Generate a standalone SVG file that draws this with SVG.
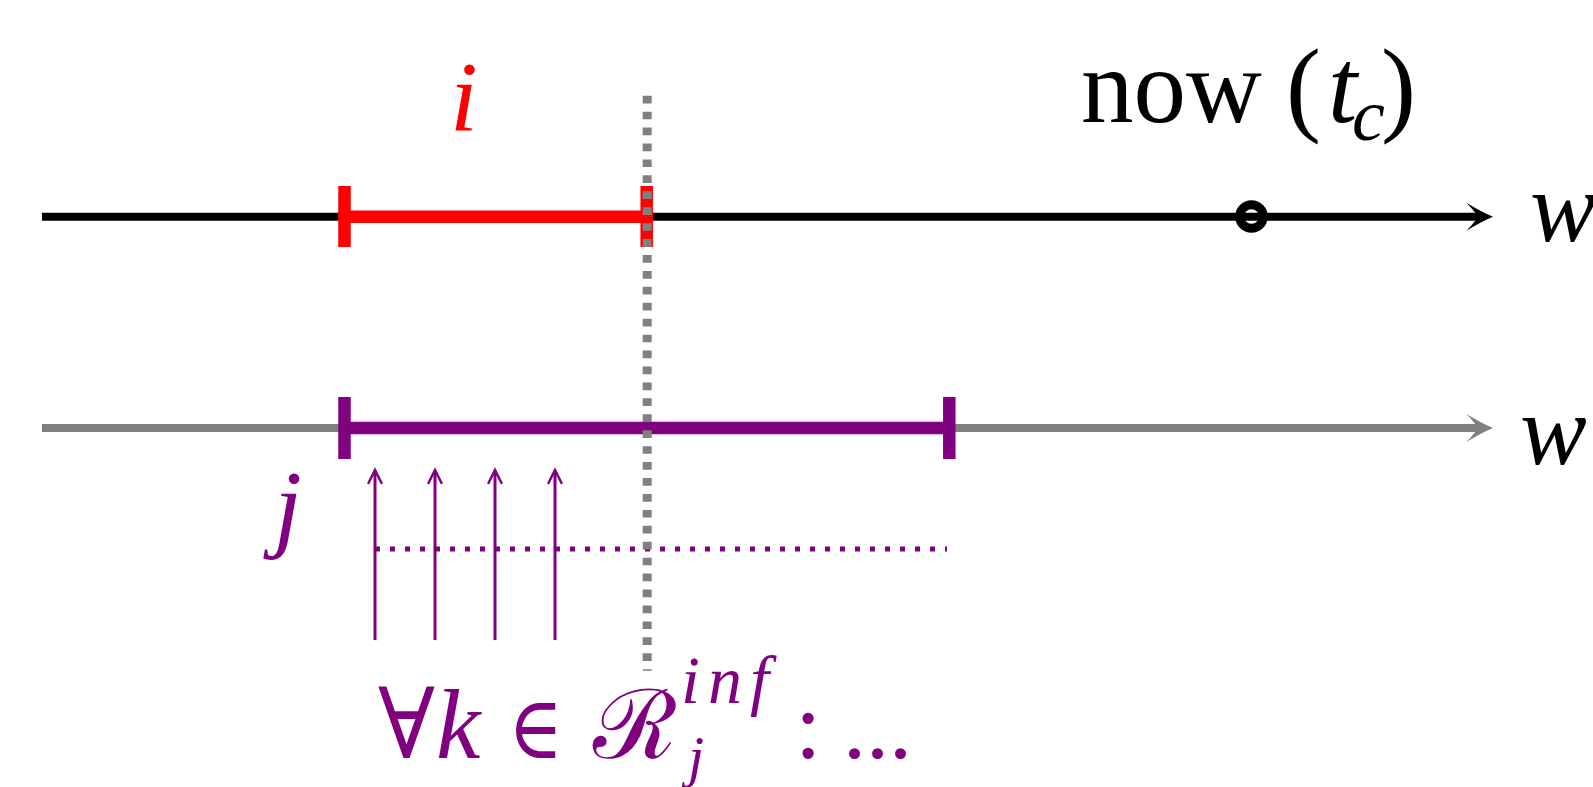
<svg xmlns="http://www.w3.org/2000/svg" width="1593" height="787" viewBox="0 0 1593 787">
  <style>
    .serif { font-family: "Liberation Serif", "DejaVu Serif", serif; }
    .it { font-style: italic; }
    .math { font-family: "DejaVu Serif", "Liberation Serif", serif; }
    .axis-k { stroke: #000000; stroke-width: 8; fill: none; }
    .axis-g { stroke: #808080; stroke-width: 8; fill: none; }
    .bar-red { stroke: #ff0000; stroke-width: 12.5; fill: none; }
    .bar-pur { stroke: #800080; stroke-width: 12.5; fill: none; }
    .vdots { stroke: #808080; stroke-width: 9; stroke-dasharray: 7.7 8.23; fill: none; }
    .hdots { stroke: #800080; stroke-width: 5; stroke-dasharray: 5 10; fill: none; }
    .uparrow { stroke: #800080; stroke-width: 3; fill: none; }
  </style>
  <defs>
    <marker id="head-k" markerUnits="userSpaceOnUse" markerWidth="30" markerHeight="30" refX="-15" refY="0" orient="auto" overflow="visible">
      <path d="M0,0 Q-12,-5 -26.5,-14 Q-18,-5 -15,0 Q-18,5 -26.5,14 Q-12,5 0,0 Z" fill="#000000"/>
    </marker>
    <marker id="head-g" markerUnits="userSpaceOnUse" markerWidth="30" markerHeight="30" refX="-15" refY="0" orient="auto" overflow="visible">
      <path d="M0,0 Q-12,-5 -26.5,-14 Q-18,-5 -15,0 Q-18,5 -26.5,14 Q-12,5 0,0 Z" fill="#808080"/>
    </marker>
    <marker id="head-p" markerUnits="userSpaceOnUse" markerWidth="16" markerHeight="16" refX="0" refY="0" orient="auto" overflow="visible">
      <path d="M-13,-6.5 Q-4,-2 0,0 Q-4,2 -13,6.5" fill="none" stroke="#800080" stroke-width="2.5" stroke-linecap="round"/>
    </marker>
  </defs>
  <rect width="1593" height="787" fill="#ffffff"/>

  <g id="connectors">
    <line id="axis-top" class="axis-k" x1="42" y1="216.7" x2="1478" y2="216.7" marker-end="url(#head-k)"/>
    <line id="axis-bottom" class="axis-g" x1="42" y1="428" x2="1478" y2="428" marker-end="url(#head-g)"/>
  </g>

  <g id="interval-i">
    <line class="bar-red" x1="344.5" y1="216.7" x2="646.7" y2="216.7"/>
    <line class="bar-red" x1="344.5" y1="186" x2="344.5" y2="247"/>
    <line class="bar-red" x1="646.7" y1="186" x2="646.7" y2="247"/>
    <text class="serif it" x="450" y="130" font-size="100" fill="#ff0000">i</text>
  </g>

  <g id="interval-j">
    <line class="bar-pur" x1="344.5" y1="428" x2="949.3" y2="428"/>
    <line class="bar-pur" x1="344.5" y1="397" x2="344.5" y2="459"/>
    <line class="bar-pur" x1="949.3" y1="397" x2="949.3" y2="459"/>
    <text class="serif it" x="274" y="539" font-size="100" fill="#800080">j</text>
  </g>

  <g id="now-marker">
    <circle cx="1251.5" cy="216.5" r="11.8" fill="none" stroke="#000000" stroke-width="9"/>
    <text class="serif" y="121.7" font-size="105" fill="#000000"><tspan x="1081">now</tspan><tspan x="1286">(</tspan><tspan class="it" x="1328">t</tspan></text>
    <text class="serif it" x="1352" y="140" font-size="74" fill="#000000">c</text>
    <text class="serif" x="1381" y="121.7" font-size="105" fill="#000000">)</text>
  </g>

  <g id="label-w-top">
    <text class="serif it" x="1530" y="241" font-size="100" fill="#000000">w</text>
  </g>
  <g id="label-w-bottom">
    <text class="serif it" x="1520" y="464" font-size="100" fill="#000000">w</text>
  </g>

  <g id="connectors-k">
    <line class="hdots" x1="375" y1="549" x2="947" y2="549"/>
    <line class="uparrow" x1="375" y1="640" x2="375" y2="470" marker-end="url(#head-p)"/>
    <line class="uparrow" x1="435" y1="640" x2="435" y2="470" marker-end="url(#head-p)"/>
    <line class="uparrow" x1="495" y1="640" x2="495" y2="470" marker-end="url(#head-p)"/>
    <line class="uparrow" x1="555" y1="640" x2="555" y2="470" marker-end="url(#head-p)"/>
    <line id="now-line" class="vdots" x1="647.2" y1="95.7" x2="647.2" y2="670.7"/>
  </g>

  <g id="formula" fill="#800080">
    <text class="math" x="378" y="758" font-size="98" textLength="57" lengthAdjust="spacingAndGlyphs">∀</text>
    <text class="serif it" x="436" y="758" font-size="100">k</text>
    <text class="math" x="508" y="758" font-size="88" textLength="55" lengthAdjust="spacingAndGlyphs">∈</text>
    <text class="math" x="593" y="758" font-size="96" textLength="84" lengthAdjust="spacingAndGlyphs">ℛ</text>
    <text class="serif it" x="681" y="703" font-size="68" textLength="88" lengthAdjust="spacing">inf</text>
    <text class="serif it" x="688" y="776" font-size="58">j</text>
    <text class="serif" x="795" y="758" font-size="95">:</text>
    <text class="serif" x="843" y="758" font-size="92">...</text>
  </g>
</svg>
